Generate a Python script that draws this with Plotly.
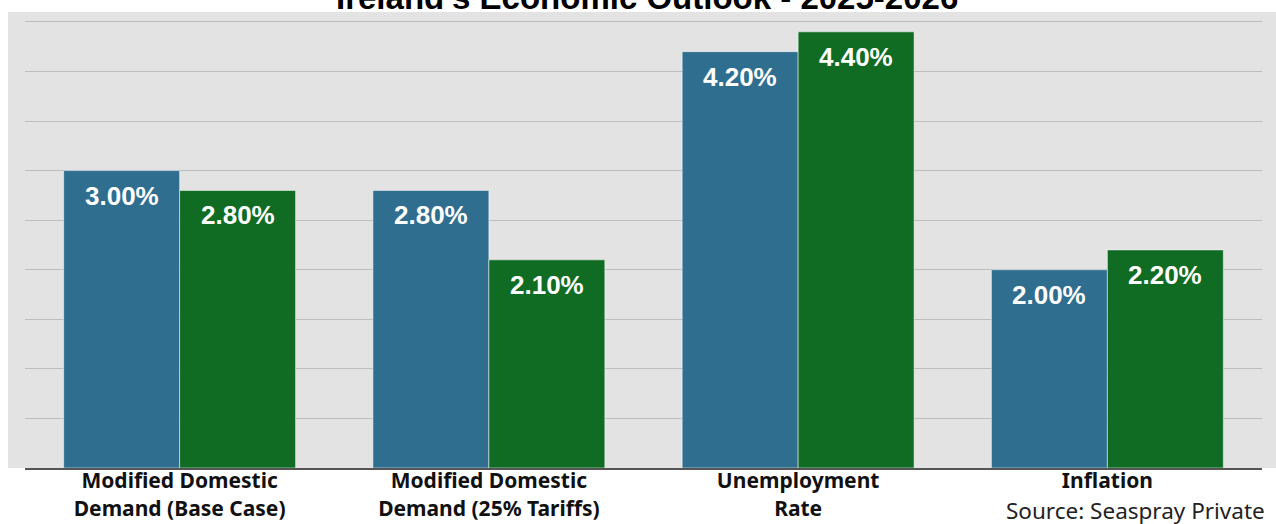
import plotly.graph_objects as go

categories = [
    "Modified Domestic<br>Demand (Base Case)",
    "Modified Domestic<br>Demand (25% Tariffs)",
    "Unemployment<br>Rate",
    "Inflation",
]
series_names = ["2025", "2026"]
values_2025 = [3.00, 2.80, 4.20, 2.00]
values_2026 = [2.80, 2.10, 4.40, 2.20]
title_text = "Ireland's Economic Outlook - 2025-2026"
source_text = "Source: Seaspray Private"

BLUE = "#2f6e8f"
GREEN = "#106b23"
LABEL_FONT = dict(family="Liberation Sans Narrow, Liberation Sans, Arial", size=26, color="white", weight="bold")

fig = go.Figure()
fig.add_trace(go.Bar(name=series_names[0], x=categories, y=values_2025,
                     marker=dict(color=BLUE, line=dict(color="rgba(255,255,255,0.5)", width=1))))
fig.add_trace(go.Bar(name=series_names[1], x=categories, y=values_2026,
                     marker=dict(color=GREEN, line=dict(color="rgba(255,255,255,0.5)", width=1))))

annotations = []
for cat, v in zip(categories, values_2025):
    annotations.append(dict(x=cat, y=v, xref="x", yref="y", text=f"{v:.2f}%",
                            showarrow=False, xshift=-58, yanchor="top", yshift=-8, font=LABEL_FONT))
for cat, v in zip(categories, values_2026):
    annotations.append(dict(x=cat, y=v, xref="x", yref="y", text=f"{v:.2f}%",
                            showarrow=False, xshift=58, yanchor="top", yshift=-8, font=LABEL_FONT))

annotations.append(dict(x=0.5, y=1, xref="paper", yref="paper", text=title_text, showarrow=False,
                        xanchor="center", yanchor="bottom", yshift=-6, xshift=3,
                        font=dict(family="Liberation Sans, Arial", size=33, color="black", weight="bold")))
annotations.append(dict(x=1, y=0, xref="paper", yref="paper", text=source_text, showarrow=False,
                        xanchor="right", yanchor="top", xshift=5, yshift=-25,
                        font=dict(family="Noto Sans", size=22.5, color="#222222")))

fig.update_layout(
    width=1276, height=524,
    margin=dict(l=25, r=14, t=12, b=56),
    barmode="group", bargap=0.25, bargroupgap=0,
    paper_bgcolor="white", plot_bgcolor="rgba(0,0,0,0)",
    showlegend=False,
    annotations=annotations,
    shapes=[dict(type="rect", xref="paper", yref="paper", x0=-0.0137, x1=1.02, y0=0, y1=1,
                 fillcolor="#e3e3e3", line=dict(width=0), layer="below")],
)
fig.update_yaxes(range=[0, 4.6], dtick=0.5, showticklabels=False, showgrid=True,
                 gridcolor="#bdbdbd", gridwidth=1, zeroline=False)
fig.update_xaxes(showline=True, linecolor="#555555", linewidth=2, ticks="", automargin=False,
                 ticklabelstandoff=-7,
                 tickfont=dict(family="Noto Sans", size=21, color="#111111", weight="bold"))

fig.write_html("out.html")
